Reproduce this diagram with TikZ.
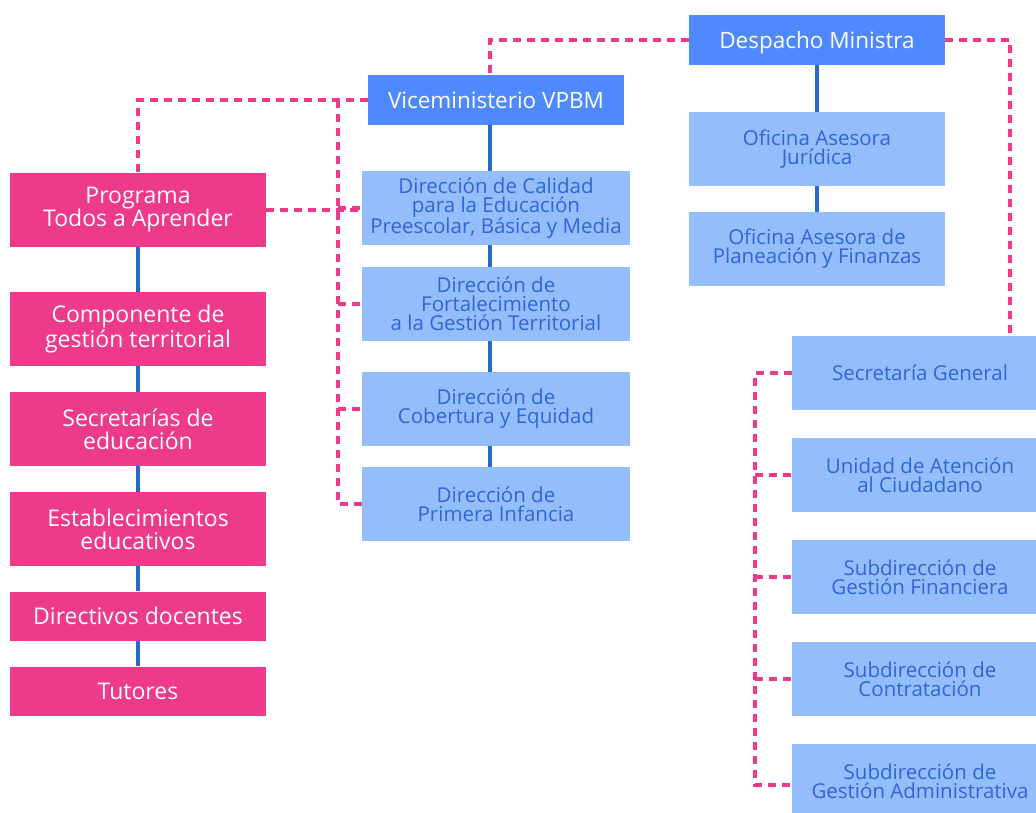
\documentclass[tikz,border=0pt]{standalone}
\usepackage{fontspec}
\setmainfont{Open Sans}
\definecolor{pinkbox}{HTML}{EE3A8A}
\definecolor{darkblue}{HTML}{4F89FF}
\definecolor{lightblue}{HTML}{94BDFB}
\definecolor{bluetext}{HTML}{2F66D8}
\definecolor{tieblue}{HTML}{2A67D2}
\definecolor{dashpink}{HTML}{F0398A}

\begin{document}
\begin{tikzpicture}[x=1pt,y=-1pt,
    head/.style={fill=darkblue, text=white, inner sep=0pt,
      minimum width=256pt, minimum height=50pt, text height=17pt, text depth=0pt,
      font=\fontsize{22.5}{24}\selectfont},
    unit/.style={fill=lightblue, text=bluetext, inner sep=0pt, align=center,
      minimum height=74pt, font=\fontsize{20.5}{19}\selectfont},
    prog/.style={fill=pinkbox, text=white, inner sep=0pt, align=center,
      minimum width=256pt, minimum height=74pt,
      font=\fontsize{23}{23}\selectfont},
    tie/.style={draw=tieblue, line width=3.2pt},
    link/.style={draw=dashpink, line width=3.6pt, dash pattern=on 8pt off 6pt}]
  \useasboundingbox (0,0) rectangle (1036,812);

  % top
  \node[head] (dm) at (817,40) {Despacho Ministra};
  \node[head] (vice) at (496,100) {Viceministerio VPBM};

  % oficinas
  \node[unit, minimum width=256pt] (oj) at (817,149) {Oficina Asesora\\Jurídica};
  \node[unit, minimum width=256pt] (op) at (817,249) {Oficina Asesora de\\Planeación y Finanzas};

  % direcciones
  \node[unit, minimum width=268pt] (dcal) at (496,208) {Dirección de Calidad\\para la Educación\\Preescolar, Básica y Media};
  \node[unit, minimum width=268pt] (dfor) at (496,304) {Dirección de\\Fortalecimiento\\a la Gestión Territorial};
  \node[unit, minimum width=268pt] (dcob) at (496,409) {Dirección de\\Cobertura y Equidad};
  \node[unit, minimum width=268pt] (dpi) at (496,504) {Dirección de\\Primera Infancia};

  % programa
  \node[prog] (pta) at (138,210) {Programa\\Todos a Aprender};
  \node[prog] (cgt) at (138,329) {Componente de\\gestión territorial};
  \node[prog] (sed) at (138,429) {Secretarías de\\educación};
  \node[prog] (est) at (138,529) {Establecimientos\\educativos};
  \node[prog, minimum height=49pt] (dir) at (138,616) {Directivos docentes};
  \node[prog, minimum height=49pt] (tut) at (138,691) {Tutores};

  % secretaria
  \node[unit, minimum width=256pt] (sg) at (920,373) {Secretaría General};
  \node[unit, minimum width=256pt] (uac) at (920,475) {Unidad de Atención\\al Ciudadano};
  \node[unit, minimum width=256pt] (sgf) at (920,577) {Subdirección de\\Gestión Financiera};
  \node[unit, minimum width=256pt] (scon) at (920,679) {Subdirección de\\Contratación};
  \node[unit, minimum width=256pt] (sga) at (920,781) {Subdirección de\\Gestión Administrativa};

  % solid lines
  \draw[tie] (dm) -- (oj);
  \draw[tie] (oj) -- (op);
  \draw[tie] ([xshift=-6pt]vice.south) -- ([xshift=-6pt]dcal.north);
  \draw[tie] ([xshift=-6pt]dcal.south) -- ([xshift=-6pt]dfor.north);
  \draw[tie] ([xshift=-6pt]dfor.south) -- ([xshift=-6pt]dcob.north);
  \draw[tie] ([xshift=-6pt]dcob.south) -- ([xshift=-6pt]dpi.north);
  \foreach \a/\b in {pta/cgt, cgt/sed, sed/est, est/dir, dir/tut}
    \draw[tie] (\a) -- (\b);

  % dashed lines
  \coordinate (lspine) at (338,100);
  \coordinate (rend) at (755,785);
  \draw[link] (dm.west) -| ([xshift=-6pt]vice.north);
  \draw[link] (dm.east) -| ([xshift=90pt]sg.north);
  \draw[link] (vice.west) -| (pta.north);
  \draw[link] (pta.east) -- (pta.east -| dcal.west);
  \draw[link] (lspine) |- (dpi.west);
  \foreach \n in {dcal, dfor, dcob}
    \draw[link] (lspine |- \n.west) -- (\n.west);
  \draw[link] (sg.west) -| (rend) -- (rend -| sga.west);
  \foreach \n in {uac, sgf, scon}
    \draw[link] (rend |- \n.west) -- (\n.west);
\end{tikzpicture}
\end{document}
